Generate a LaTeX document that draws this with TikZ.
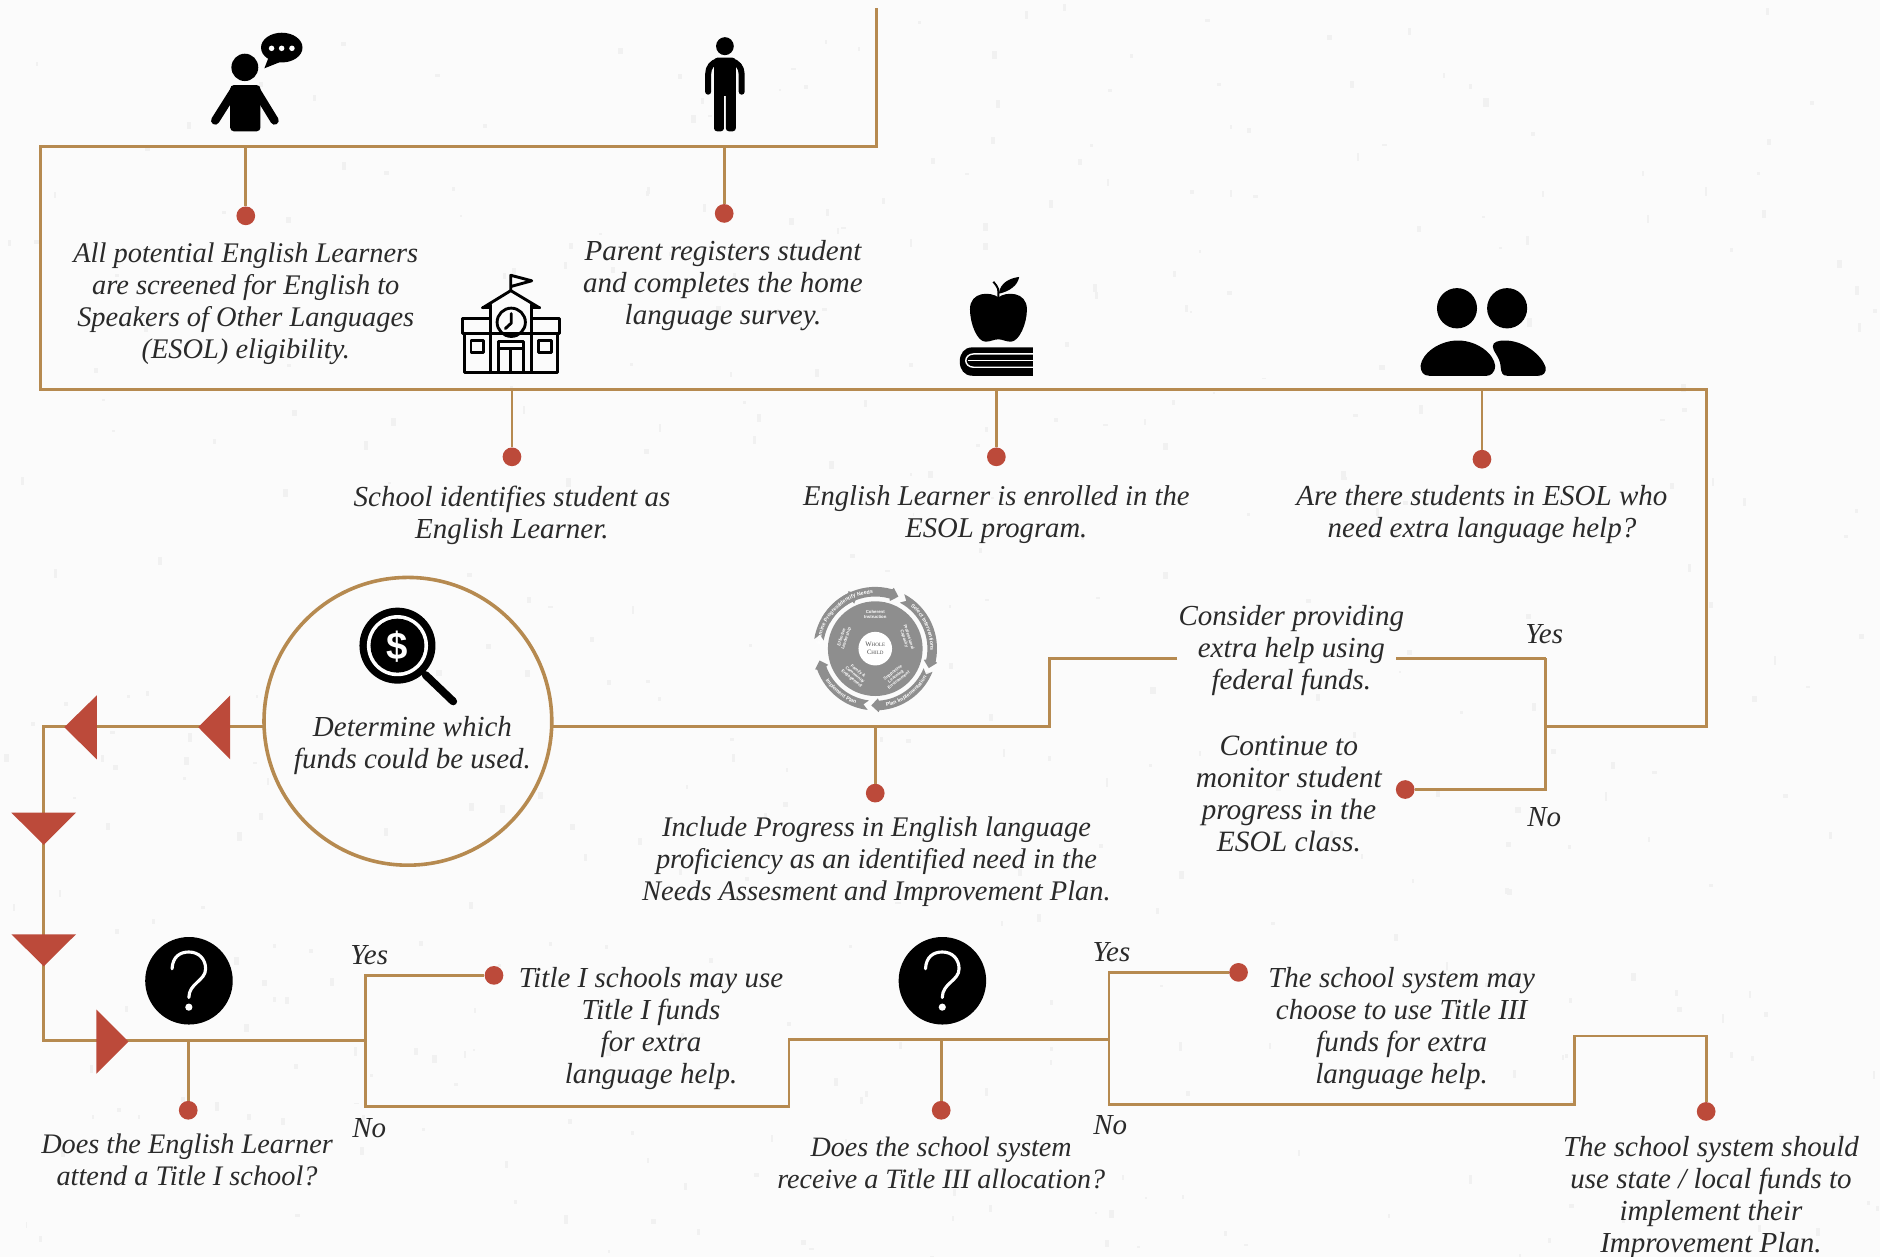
\documentclass[tikz,border=0pt]{standalone}
\usepackage{fontspec}
\setmainfont{Liberation Serif}
\newfontfamily\iconsans{Liberation Sans}
\usetikzlibrary{decorations.text,calc}
\definecolor{bgc}{HTML}{FBFBFB}
\definecolor{speck}{HTML}{F1F1F1}
\definecolor{linec}{HTML}{B68A50}
\definecolor{redc}{HTML}{BC4A3A}
\definecolor{txtc}{HTML}{2A2A2A}
\definecolor{cyc}{HTML}{8E8E8E}
\tikzset{
  conn/.style={draw=linec,line width=2.3pt,line join=miter},
  dot/.style={circle,fill=redc,inner sep=0pt,minimum size=15.6pt},
  lab/.style={inner sep=0pt,align=center,text=txtc,font=\fontsize{24.2}{26.7}\selectfont\itshape},
  labn/.style={lab,font=\fontsize{#1}{26.7}\selectfont\itshape},
  tri/.style={fill=redc},
  ink/.style={fill=black,draw=none},
  ol/.style={draw=black,line width=2.4pt,line join=round,line cap=round},
  ringlab/.style={inner sep=0pt,align=center,text=white,font=\iconsans\fontsize{3.6}{4}\selectfont\bfseries},
  ringtext/.style={decoration={text along path,text align=center,text={|\iconsans\fontsize{4.4}{5}\selectfont\bfseries\color{white}|#1}},decorate},
}
\begin{document}
\begin{tikzpicture}[x=1pt,y=-1pt]
\useasboundingbox (0,0) rectangle (1568,1048);
\fill[bgc] (0,0) rectangle (1568,1048);
% paper speckle
\pgfmathsetseed{7}
\foreach \i in {1,...,420}{
  \pgfmathsetmacro{\sx}{1568*rnd}
  \pgfmathsetmacro{\sy}{1048*rnd}
  \pgfmathsetmacro{\sw}{1.5+3*rnd}
  \pgfmathsetmacro{\sh}{1.5+6*rnd}
  \fill[speck] (\sx,\sy) rectangle ++(\sw,\sh);
}
% end dots
\node[dot] (d1) at (205,180) {};
\node[dot] (d2) at (604,178) {};
\node[dot] (d3) at (427,381) {};
\node[dot] (d4) at (831,381) {};
\node[dot] (d5) at (1236,383) {};
\node[dot] (d6) at (1172,658.5) {};
\node[dot] (d7) at (730,661.5) {};
\node[dot] (d8) at (412,813.5) {};
\node[dot] (d9) at (157,926) {};
\node[dot] (d10) at (785,926) {};
\node[dot] (d11) at (1033,811) {};
\node[dot] (d12) at (1423,927) {};
% the big circle
\node[circle,draw=linec,line width=3pt,minimum size=240pt,inner sep=0pt] (fund) at (340.2,601.6) {};
% labels
\node[labn=23.7] (t1) at (205,253) {All potential English Learners\\are screened for English to\\Speakers of Other Languages\\(ESOL) eligibility.};
\node[lab] (t2) at (603,238.5) {Parent registers student\\and completes the home\\language survey.};
\node[lab] (t3) at (427,429.5) {School identifies student as\\English Learner.};
\node[labn=23.9] (t4) at (831,429.5) {English Learner is enrolled in the\\ESOL program.};
\node[lab] (t5) at (1236,429.5) {Are there students in ESOL who\\need extra language help?};
\node[lab] (t6) at (1077,542.5) {Consider providing\\extra help using\\federal funds.};
\node[lab] (y1) at (1288,529) {Yes};
\node[lab] (n1) at (1288,681.5) {No};
\node[labn=24.6] (t7) at (1075,662.5) {Continue to\\monitor student\\progress in the\\ESOL class.};
\node[labn=23.7] (t8) at (731,718.5) {Include Progress in English language\\proficiency as an identified need in the\\Needs Assesment and Improvement Plan.};
\node[lab] (t9) at (344,622) {Determine which\\funds could be used.};
\node[lab] (y2) at (308,796.5) {Yes};
\node[lab] (n2) at (308,940.5) {No};
\node[lab] (t10) at (543,858) {Title I schools may use\\Title I funds\\for extra\\language help.};
\node[labn=23.6] (t11) at (156,967.5) {Does the English Learner\\attend a Title I school?};
\node[labn=23.4] (t12) at (785,970) {Does the school system\\receive a Title III allocation?};
\node[lab] (y3) at (927,794) {Yes};
\node[lab] (n3) at (926,938.5) {No};
\node[lab] (t13) at (1169,858) {The school system may\\choose to use Title III\\funds for extra\\language help.};
\node[lab] (t14) at (1427,998.5) {The school system should\\use state / local funds to\\implement their\\Improvement Plan.};
% junction coordinates
\coordinate (top) at (731,7);
\coordinate (c1) at (731,122);
\coordinate (c2) at (34,122);
\coordinate (c3) at (34,325);
\coordinate (c4) at (1423,325);
\coordinate (c5) at (1423,606);
\coordinate (j1) at (1289,606);
\coordinate (j1a) at (1289,549);
\coordinate (j1b) at (1289,658.5);
\coordinate (g1) at (1164,549);
\coordinate (g2) at (982,549);
\coordinate (c6) at (875,549);
\coordinate (c7) at (875,606);
\coordinate (fe) at (461,606);
\coordinate (fw) at (219.5,606);
\coordinate (c8) at (36.5,606);
\coordinate (c9) at (36.5,868);
\coordinate (j2) at (305,868);
\coordinate (j2a) at (305,813.5);
\coordinate (j2b) at (305,923);
\coordinate (c10) at (658,923);
\coordinate (c11) at (658,867);
\coordinate (j3) at (925,867);
\coordinate (j3a) at (925,811);
\coordinate (j3b) at (925,921);
\coordinate (c12) at (1313,921);
\coordinate (c13) at (1313,864);
\coordinate (c14) at (1423,864);
% connectors
\draw[conn] (top) -- (c1) -- (c2) -- (c3) -- (c4) -- (c5) -- (j1);
\draw[conn] (j1a) -- (j1b) -- (d6);
\draw[conn] (j1a) -- (g1);
\draw[conn] (g2) -- (c6) -- (c7) -- (fe);
\draw[conn] (fw) -- (c8) -- (c9) -- (j2);
\draw[conn] (d8) -- (j2a) -- (j2b) -- (c10) -- (c11) -- (j3);
\draw[conn] (d11) -- (j3a) -- (j3b) -- (c12) -- (c13) -- (c14) -- (d12);
\draw[conn] (205,122) -- (d1);
\draw[conn] (604,122) -- (d2);
\draw[conn] (427,325) -- (d3);
\draw[conn] (831,325) -- (d4);
\draw[conn] (1236,325) -- (d5);
\draw[conn] (730,606) -- (d7);
\draw[conn] (157,868) -- (d9);
\draw[conn] (785,867) -- (d10);
% triangles
\fill[tri] (53.6,606.5) -- (80.7,580) -- (80.7,633.3) -- cycle;
\fill[tri] (165.3,606.5) -- (192,580) -- (192,633.3) -- cycle;
\fill[tri] (9.5,677.8) -- (63.4,677.8) -- (36.5,704.7) -- cycle;
\fill[tri] (9.5,779.2) -- (63.4,779.2) -- (36.5,806) -- cycle;
\fill[tri] (80.4,842) -- (107.2,868.8) -- (80.4,895.5) -- cycle;
% icon: person talking
\fill[ink] (204.2,56.2) ellipse [x radius=11.2,y radius=11.4];
\fill[ink,rounded corners=3pt] (192,71) rectangle (217.2,109.5);
\draw[black,line width=7pt,line cap=round] (195,76) -- (179.5,100.5);
\draw[black,line width=7pt,line cap=round] (214,76) -- (229,100.5);
\fill[ink] (235,39.7) ellipse [x radius=17.3,y radius=12.4];
\fill[ink] (224,48) -- (220.5,57) -- (233,52) -- cycle;
\fill[white] (226.5,40.3) circle (2.3) (234.9,40.3) circle (2.3) (243.5,40.3) circle (2.3);
% icon: person standing
\fill[ink] (604.6,38.5) ellipse [x radius=7.4,y radius=7.5];
\fill[ink,rounded corners=3pt] (595.5,48) rectangle (613.7,80);
\fill[ink,rounded corners=2.5pt] (595.5,70) rectangle (603.8,109.5);
\fill[ink,rounded corners=2.5pt] (605.4,70) rectangle (613.7,109.5);
\draw[black,line width=5pt,line cap=round,line join=round] (599,51) .. controls (594,52) and (590.6,56) .. (590.6,62) -- (590.6,76.5);
\draw[black,line width=5pt,line cap=round,line join=round] (610,51) .. controls (615,52) and (618.6,56) .. (618.6,62) -- (618.6,76.5);
% icon: school
\draw[ol] (426,242.4) -- (426,229.6) -- (443.5,234.2) -- (426,239);
\draw[ol] (402.5,256.8) -- (426,242.4) -- (450,256.8);
\draw[ol] (402.5,256.8) -- (409,256.8) (443.5,256.8) -- (450,256.8);
\draw[ol] (409,254) -- (409,310.5) (443.5,254) -- (443.5,310.5);
\draw[ol] (409,265.5) -- (386,265.5) -- (386,278) -- (466.5,278) -- (466.5,265.5) -- (443.5,265.5);
\draw[ol] (387.5,278) -- (387.5,310.5) -- (465,310.5) -- (465,278);
\draw[ol] (426.4,268.8) circle (11.8);
\draw[ol] (426.4,261.5) -- (426.4,269.5) -- (421.5,274);
\draw[ol] (392.8,283.8) rectangle (403.5,294);
\draw[ol] (449,283.8) rectangle (459.7,294);
\draw[ol] (415.8,310.5) -- (415.8,285) -- (436.4,285) -- (436.4,310.5);
\draw[ol] (415.8,291) -- (436.4,291) (426.1,291) -- (426.1,310.5);
% icon: apple and book
\fill[ink] (832.7,248) .. controls (826,243) and (809,243) .. (809,258) .. controls (809,270) and (815,285) .. (822,285) .. controls (826,285) and (829,283) .. (832.7,283) .. controls (836,283) and (839,285) .. (843,285) .. controls (850,285) and (856.5,270) .. (856.5,258) .. controls (856.5,243) and (839,243) .. (832.7,248) -- cycle;
\draw[black,line width=1.6pt] (832.7,249) -- (832.5,241) .. controls (832,239) and (830,237) .. (828.5,235);
\fill[ink] (833,245) .. controls (834,236) and (842,232) .. (850,231) .. controls (849,238) and (842,243) .. (833,245) -- cycle;
\fill[ink] (861.5,289.7) -- (811,289.7) .. controls (804,289.7) and (800.5,295) .. (800.5,301.5) .. controls (800.5,308) and (804,313.4) .. (811,313.4) -- (861.5,313.4) -- cycle;
\draw[white,line width=1.2pt] (861.5,295.2) -- (812,295.2) .. controls (808,295.2) and (805.5,298) .. (805.5,300.8) .. controls (805.5,303.5) and (808,306.3) .. (812,306.3) -- (861.5,306.3);
\draw[white,line width=1.2pt] (807,300.8) -- (861.5,300.8);
% icon: two people
\fill[ink] (1215.2,257.1) ellipse [x radius=16.7,y radius=16.8];
\fill[ink] (1257,257.1) ellipse [x radius=16.7,y radius=16.8];
\fill[ink] (1184.8,305) .. controls (1186,295) and (1200,284) .. (1216,284) .. controls (1232,284) and (1246,295) .. (1247,305) .. controls (1247,311) and (1243,313.4) .. (1240,313.4) -- (1192,313.4) .. controls (1187,313.4) and (1184.8,310) .. (1184.8,305) -- cycle;
\fill[ink] (1245,289) .. controls (1245,285) and (1250,284) .. (1255,284) .. controls (1272,284) and (1286,297) .. (1289,306) .. controls (1290,311) and (1287,313.4) .. (1283,313.4) -- (1257,313.4) .. controls (1253,313.4) and (1252,311) .. (1251.5,305) .. controls (1251,298) and (1245,293) .. (1245,289) -- cycle;
% icon: magnifier with dollar
\fill[ink] (331.5,538.5) circle (31.7);
\fill[white] (331.5,538.5) circle (25.5);
\fill[ink] (331.5,538.5) circle (22.5);
\draw[black,line width=6.5pt,line cap=round] (355,563) -- (378,585);
\node[inner sep=0pt,text=white,font=\iconsans\fontsize{32}{32}\selectfont\bfseries] (dollar) at (331.5,539.5) {\$};
% icon: question circles
\fill[ink] (157.6,818) circle (36.5);
\draw[white,line width=2.6pt,line cap=round] (143.5,808) .. controls (144,798) and (150,794) .. (157.5,794) .. controls (166,794) and (171.5,800) .. (171.5,808) .. controls (171.5,818) and (157.5,820) .. (157.5,832);
\fill[white] (157.5,840) circle (3);
\fill[ink] (786,818) circle (36.5);
\draw[white,line width=2.6pt,line cap=round] (771.9,808) .. controls (772.4,798) and (778.4,794) .. (785.9,794) .. controls (794.4,794) and (799.9,800) .. (799.9,808) .. controls (799.9,818) and (785.9,820) .. (785.9,832);
\fill[white] (785.9,840) circle (3);
% icon: improvement cycle
\begin{scope}[shift={(730,541)},x=1pt,y=1pt]
  \foreach \a/\b in {150/74,62/-12,-22/-86,-97/-160,171/116}{
    \fill[cyc] (\a:43.5) arc[start angle=\a,end angle=\b,radius=43.5] -- (\b-1:41.5) -- (\b-8:47.5) -- (\b-1:53) -- (\b:51.5) arc[start angle=\b,end angle=\a,radius=51.5] -- (\a-5:47.5) -- cycle;
  }
  \path[postaction={ringtext={Identify Needs}}] (150:46) arc[start angle=150,end angle=72,radius=46];
  \path[postaction={ringtext={Select Interventions}}] (62:46) arc[start angle=62,end angle=-14,radius=46];
  \path[postaction={ringtext={Plan Implementation}}] (-86:49) arc[start angle=-86,end angle=-22,radius=49];
  \path[postaction={ringtext={Implement Plan}}] (-160:49) arc[start angle=-160,end angle=-97,radius=49];
  \path[postaction={ringtext={Examine Progress}}] (-172:46) arc[start angle=-172,end angle=-244,radius=46];
  \fill[cyc] (0,0) circle (39.5);
  \fill[white] (0,0) circle (14);
  \node[inner sep=0pt,align=center,text=black!70,font=\fontsize{5.6}{6.4}\selectfont] (wc) at (0,0) {W{\fontsize{4.2}{6.4}\selectfont HOLE}\\C{\fontsize{4.2}{6.4}\selectfont HILD}};
  \node[ringlab] (r1) at (0,28.5) {Coherent\\Instruction};
  \node[ringlab,rotate=-72] (r2) at (26,9) {Professional\\Capacity};
  \node[ringlab,rotate=38] (r3) at (17,-23) {Supportive\\Learning\\Environment};
  \node[ringlab,rotate=-40] (r4) at (-17,-22) {Family \&\\Community\\Engagement};
  \node[ringlab,rotate=72] (r5) at (-26,9) {Effective\\Leadership};
\end{scope}
\end{tikzpicture}
\end{document}
